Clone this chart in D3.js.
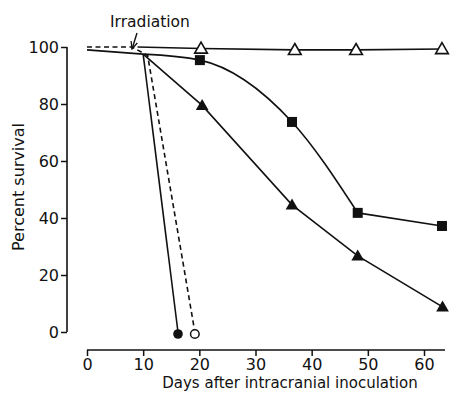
<!DOCTYPE html>
<html><head><meta charset="utf-8">
<script src="https://cdn.jsdelivr.net/npm/d3@7"></script>
<style>body{margin:0;background:#fff}svg{display:block}text{font-family:"DejaVu Sans",sans-serif;fill:#111}</style>
</head><body><svg id="c" width="450" height="394"></svg>
<script>
const xTicks = [0,10,20,30,40,50,60];
const yTicks = [0,20,40,60,80,100];
const xTitle = "Days after intracranial inoculation";
const yTitle = "Percent survival";
const annotation = "Irradiation";
// common pre-treatment segment
const baseLine = [[0,99],[10,97.5]];
// control, filled circle
const filledCircle = [[10,97.5],[16.2,0]];
// irradiated, open circle (dashed)
const openCircle = [[0,100],[8,100],[10.8,97],[19.2,0]];
// filled squares
const squares = [[10,97.5],[20.1,95.4],[36.5,73.7],[48.2,41.8],[63.2,37.2]];
// filled triangles
const filledTri = [[10,97.5],[20.5,79.5],[36.5,44.6],[48.2,26.7],[63.3,8.8]];
// open triangles
const openTri = [[9,100],[20.3,99.5],[37,99],[47.9,99],[63.2,99.3]];

const svg = d3.select("#c");
const x = d3.scaleLinear().domain([0,60]).range([87,424]);
const y = d3.scaleLinear().domain([0,100]).range([332,47]);

// axes
const xa = svg.append("g").attr("transform","translate(0,350)")
  .call(d3.axisBottom(x).tickValues(xTicks).tickSize(6).tickPadding(3));
xa.select(".domain").attr("d",`M${x(0)},0H445`).attr("stroke","#111").attr("stroke-width",1.6);
xa.selectAll(".tick line").attr("stroke","#111").attr("stroke-width",1.5);
xa.selectAll("text").attr("font-size",16);

const ya = svg.append("g").attr("transform","translate(67,0)")
  .call(d3.axisLeft(y).tickValues(yTicks).tickSize(6).tickPadding(2));
ya.select(".domain").attr("d",`M0,${y(0)}V${y(100)}`).attr("stroke","#111").attr("stroke-width",1.6);
ya.selectAll(".tick line").attr("stroke","#111").attr("stroke-width",1.5);
ya.selectAll("text").attr("font-size",16);

svg.append("text").attr("x",290).attr("y",388).attr("text-anchor","middle").attr("font-size",15).text(xTitle);
svg.append("text").attr("transform","translate(24,187) rotate(-90)").attr("text-anchor","middle").attr("font-size",16).text(yTitle);

const line = d3.line().x(d=>x(d[0])).y(d=>y(d[1]));
const curveLine = d3.line().x(d=>x(d[0])).y(d=>y(d[1])).curve(d3.curveMonotoneX);
const g = svg.append("g").attr("fill","none").attr("stroke","#111").attr("stroke-width",1.6);
g.append("path").attr("d",line(baseLine));
g.append("path").attr("d",line(filledCircle));
g.append("path").attr("d",line(openCircle)).attr("stroke-dasharray","5,3.5");
g.append("path").attr("d",curveLine(squares.slice(0,4)));
g.append("path").attr("d",line(squares.slice(3)));
g.append("path").attr("d",line(filledTri));
g.append("path").attr("d",line(openTri));

// markers
const tri = d3.symbol().type(d3.symbolTriangle).size(70);
svg.append("g").selectAll("path").data(filledTri.slice(1)).join("path")
  .attr("d",tri).attr("transform",d=>`translate(${x(d[0])},${y(d[1])+1})`).attr("fill","#111");
svg.append("g").selectAll("path").data(openTri.slice(1)).join("path")
  .attr("d",tri).attr("transform",d=>`translate(${x(d[0])},${y(d[1])+1})`).attr("fill","#fff").attr("stroke","#111").attr("stroke-width",1.6);
svg.append("g").selectAll("rect").data(squares.slice(1)).join("rect")
  .attr("x",d=>x(d[0])-5).attr("y",d=>y(d[1])-5).attr("width",10).attr("height",10).attr("fill","#111");
svg.append("circle").attr("cx",x(filledCircle[1][0])).attr("cy",y(filledCircle[1][1])+2).attr("r",4.8).attr("fill","#111");
svg.append("circle").attr("cx",x(openCircle[3][0])).attr("cy",y(openCircle[3][1])+2).attr("r",4.3).attr("fill","#fff").attr("stroke","#111").attr("stroke-width",1.5);

// annotation
svg.append("text").attr("x",110).attr("y",27).attr("font-size",15.5).text(annotation);
svg.append("defs").append("marker").attr("id","ah").attr("viewBox","0 0 10 10").attr("refX",9).attr("refY",5)
  .attr("markerWidth",6).attr("markerHeight",6).attr("orient","auto")
  .append("path").attr("d","M0,1L9,5L0,9").attr("fill","none").attr("stroke","#111").attr("stroke-width",1.5);
svg.append("line").attr("x1",137).attr("y1",33).attr("x2",132).attr("y2",49)
  .attr("stroke","#111").attr("stroke-width",1.4).attr("marker-end","url(#ah)");
</script></body></html>
